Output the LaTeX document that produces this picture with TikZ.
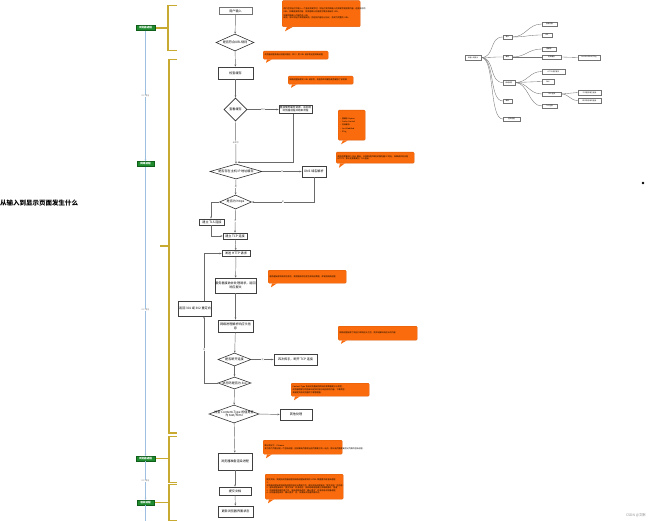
\documentclass[tikz,border=0pt]{standalone}
\usepackage{fontspec}
\setmainfont{Noto Sans CJK SC}
\usetikzlibrary{shapes.geometric,arrows.meta,calc}
\definecolor{noteor}{HTML}{F96B0C}
\definecolor{noteedge}{HTML}{DE5A08}
\definecolor{grn}{HTML}{1E8C2E}
\definecolor{grnd}{HTML}{0F5E1A}
\definecolor{goldb}{HTML}{C9AA30}
\definecolor{bluel}{HTML}{9DBFE0}
\definecolor{linec}{HTML}{6A6A6A}
\tikzset{
  fbox/.style={draw=black!75, line width=0.6pt, fill=white, align=center,
    font=\fontsize{3.1}{3.7}\selectfont, inner sep=0.4pt},
  fdia/.style={diamond, draw=black!80, line width=0.6pt, fill=white, inner sep=0pt,
    label={[font=\fontsize{3.1}{3.7}\selectfont, align=center]center:#1}},
  arr/.style={draw=linec, line width=0.45pt, -{Stealth[length=2.2pt,width=1.8pt]}},
  elab/.style={font=\fontsize{2}{2.4}\selectfont, text=black!60, fill=white, inner sep=0.3pt},
  note/.style={fill=noteor, draw=noteedge, line width=0.3pt, rounded corners=1pt,
    anchor=north west, align=left, font=\fontsize{2}{2.6}\selectfont, inner sep=1.2pt},
  tail/.style={fill=noteor},
  brk/.style={draw=goldb, line width=1.1pt},
  plabel/.style={fill=grn, draw=grnd, line width=0.3pt, text=white, inner sep=0.5pt,
    font=\fontsize{2.6}{3}\selectfont\bfseries, minimum height=5pt},
  bline/.style={draw=bluel, line width=0.7pt},
  barr/.style={draw=bluel, line width=0.7pt, -{Stealth[length=2pt,width=1.8pt]}},
  ipc/.style={font=\fontsize{2}{2.4}\selectfont, text=black!50, fill=white, inner sep=0.3pt},
  mm/.style={draw=black!55, line width=0.35pt, fill=white, inner sep=0.3pt,
    font=\fontsize{1.7}{2}\selectfont, minimum height=4.6pt},
  mml/.style={draw=black!55, line width=0.35pt}
}
\begin{document}
\begin{tikzpicture}[x=1pt,y=-1pt]
\useasboundingbox (0,0) rectangle (650,521);
\fill[white] (0,0) rectangle (650,521);

% ---------- title ----------
\node[anchor=west, font=\fontsize{6.5}{7}\selectfont\bfseries, inner sep=0pt] (title) at (0,203) {从输入到显示页面发生什么};

% ---------- brackets ----------
\draw[brk] (177,5.5) -- (168,5.5) -- (168,50.5) -- (177,50.5);
\draw[brk] (168,28) -- (155,28);
\draw[brk] (177,59.5) -- (169,59.5) -- (169,433) -- (177,433);
\draw[brk] (169,246) -- (160,246);
\draw[brk] (177,436.5) -- (169,436.5) -- (169,482.5) -- (177,482.5);
\draw[brk] (169,458.5) -- (155,458.5);
\draw[brk] (177,484.5) -- (169,484.5) -- (169,520.5) -- (177,520.5);
\draw[brk] (169,502.5) -- (154,502.5);

% ---------- process labels ----------
\node[plabel, minimum width=19pt] (p1) at (145.5,28) {浏览器进程};
\node[plabel, minimum width=17pt] (p2) at (145.5,164) {网络进程};
\node[plabel, minimum width=19pt] (p3) at (145.5,458.5) {浏览器进程};
\node[plabel, minimum width=17pt] (p4) at (145.5,502.5) {渲染进程};
\draw[barr] (p1.south) -- (p2.north);
\draw[barr] (p2.south) -- (p3.north);
\draw[barr] (p3.south) -- (p4.north);
\draw[bline] (p4.south) -- (145.5,521);
\node[ipc] (i1) at (145.5,96) {IPC 通信};
\node[ipc] (i2) at (145.5,310) {IPC 通信};
\node[ipc] (i3) at (145.5,481) {IPC 通信};

% ---------- flow nodes ----------
\node[fbox, draw=black!55, line width=0.5pt, minimum width=33pt, minimum height=6.5pt] (user) at (235.5,11) {用户输入};
\node[fdia={是否符合URL规则}, minimum width=38pt, minimum height=17pt] (d1) at (235,42.5) {};
\node[fbox, minimum width=35pt, minimum height=12pt] (cache) at (235.5,73) {检查缓存};
\node[fdia={查看缓存}, minimum width=23pt, minimum height=23pt] (d2) at (235.5,109.5) {};
\node[fbox, minimum width=33pt, minimum height=8pt, font=\fontsize{2.6}{3}\selectfont] (hit) at (295.5,109.5) {直接使用缓存资源，返回给\\浏览器进程并结束流程};
\node[fdia={是否存在主机 IP 地址缓存}, minimum width=52pt, minimum height=15pt] (d3) at (236,171.5) {};
\node[fbox, minimum width=24pt, minimum height=11pt] (dns) at (314,171.5) {DNS 域名解析};
\node[fdia={是否为 https}, minimum width=32pt, minimum height=14pt] (d4) at (235.5,202) {};
\node[fbox, minimum width=25pt, minimum height=6pt] (tls) at (212,222) {建立 TLS 连接};
\node[fbox, minimum width=24pt, minimum height=6pt] (tcp) at (235,236) {建立 TCP 连接};
\node[fbox, minimum width=28pt, minimum height=6pt] (http) at (236,253.5) {发送 HTTP 请求};
\node[fbox, minimum width=35pt, minimum height=15pt] (server) at (235.5,285.5) {服务器接收并处理请求，返回\\响应报文};
\node[fbox, minimum width=32pt, minimum height=15pt] (redir) at (195,308.5) {返回 301 或 302 重定向};
\node[fbox, minimum width=35pt, minimum height=12pt] (recv) at (235.5,326) {网络进程解析响应头信\\息};
\node[fdia={是否断开连接}, minimum width=33pt, minimum height=13pt] (d5) at (234.5,359.5) {};
\node[fbox, minimum width=43pt, minimum height=11pt] (close) at (295.5,359.5) {四次挥手，断开 TCP 连接};
\node[fdia={状态码是否为 3xx}, minimum width=33pt, minimum height=12pt] (d6) at (234.5,383) {};
\node[fdia={检查 Content-Type 的值是否\\为 text/html}, minimum width=50pt, minimum height=18pt] (d7) at (234,414) {};
\node[fbox, minimum width=32pt, minimum height=11pt] (other) at (296,414.5) {其他处理};
\node[fbox, minimum width=34pt, minimum height=17pt] (prep) at (235,461.5) {浏览器准备渲染进程};
\node[fbox, minimum width=32pt, minimum height=8pt] (submit) at (235,491) {提交文档};
\node[fbox, minimum width=35pt, minimum height=11pt] (final) at (235.5,511.5) {更新浏览器界面状态};

\coordinate (lx) at (204,0);
\coordinate (tx) at (211,0);

% ---------- flow edges ----------
\draw[arr] (user) -- (d1);
\draw[arr] (d1) -- (cache);
\draw[arr] (cache) -- (d2);
\draw[arr] (d2.east) -- node[elab]{命中} (hit.west);
\draw[arr] (d2.south) -- node[elab]{未命中} (d3.north);
\draw[arr] (hit.south -| 293,0) |- ($(d3.north)+(1.5,-1.5)$);
\draw[arr] (d3.east) -- node[elab]{否} (dns.west);
\draw[arr] (d3.south) -- node[elab]{是} (d4.north);
\draw[arr] (dns.south) |- node[elab, pos=0.75]{是} (d4.east);
\draw[arr] (d4.west) -| (tls.north -| tx);
\draw[arr] (d4.south) -- node[elab]{否} (tcp.north);
\draw[arr] (tls.south -| tx) |- (tcp.west);
\draw[arr] (tcp) -- (http);
\draw[arr] (http) -- (server);
\draw[arr] (server) -- (recv);
\draw[arr] (recv) -- (d5);
\draw[arr] (d5.east) -- node[elab]{是} (close.west);
\draw[arr] (d5) -- (d6);
\draw[arr] (d6.west) -| node[elab, pos=0.75]{是} (redir.south -| lx);
\draw[arr] (redir.north -| lx) |- (http.west);
\draw[arr] (d6) -- (d7);
\draw[arr] (d7.east) -- (other.west);
\draw[arr] (d7) -- (prep);
\draw[arr] (prep) -- (submit);
\draw[arr] (submit) -- (final);

% ---------- notes ----------
\node[note, minimum width=78pt, minimum height=26pt, text width=75pt] (n1) at (282,0.5)
 {用户在地址栏中输入一个查询关键字时，地址栏会判断输入的关键字是搜索内容，还是请求的 URL。如果是搜索内容，会使用默认的搜索引擎合成新的 URL。\\[1pt]
 如果判断输入内容符合 URL 规则，那么地址栏会根据规则，把这段内容加上协议，合成为完整的 URL。};
\fill[tail] ($(n1.south west)+(5,0)$) -- ++(6,0) -- ++(-8,4.5) -- cycle;

\node[note, minimum width=65pt, minimum height=8pt, text width=62pt] (n2) at (263,51)
 {浏览器进程会通过进程间通信（IPC）把 URL 请求发送至网络进程};
\fill[tail] ($(n2.south west)+(4,0)$) -- ++(5,0) -- ++(-6,3.5) -- cycle;

\node[note, minimum width=65pt, minimum height=8pt, text width=62pt] (n3) at (288,76)
 {网络进程接收到 URL 请求后，会查找本地缓存是否缓存了该资源};
\fill[tail] ($(n3.south west)+(4,0)$) -- ++(5,0) -- ++(-6,3.5) -- cycle;

\node[note, minimum width=27pt, minimum height=30pt, text width=24pt, font=\fontsize{1.9}{3.3}\selectfont] (n4) at (338,110)
 {\textbullet\ 强缓存 Expires\\ \textbullet\ Cache-Control\\ \textbullet\ 协商缓存\\ \textbullet\ Last-Modified\\ \textbullet\ ETag};
\fill[tail] ($(n4.south west)+(5,0)$) -- ++(5,0) -- ++(-7,4) -- cycle;

\node[note, minimum width=78pt, minimum height=11pt, text width=75pt] (n5) at (336,152)
 {请求前需要进行 DNS 解析，以获取请求域名的服务器 IP 地址。如果请求协议是 HTTPS，那么还需要建立 TLS 连接。};
\fill[tail] ($(n5.south west)+(4,0)$) -- ++(5,0) -- ++(-6,4.5) -- cycle;

\node[note, minimum width=78pt, minimum height=13pt, text width=75pt] (n6) at (268,270)
 {服务器接收到请求信息后，会根据请求信息生成响应数据，并发给网络进程};
\fill[tail] ($(n6.south west)+(4,0)$) -- ++(5,0) -- ++(-6,4) -- cycle;

\node[note, minimum width=79pt, minimum height=14pt, text width=76pt] (n7) at (338,326)
 {网络进程接收了响应行和响应头之后，就开始解析响应头的内容};
\fill[tail] ($(n7.south west)+(4,0)$) -- ++(5,0) -- ++(-6,3.5) -- cycle;

\node[note, minimum width=78pt, minimum height=13pt, text width=75pt] (n8) at (291,383)
 {Content-Type 告诉浏览器返回的响应体数据是什么类型，\\浏览器根据它的值来决定如何显示响应体的内容，下载类型\\会被提交给浏览器的下载管理器。};
\fill[tail] ($(n8.south west)+(4,0)$) -- ++(5,0) -- ++(-6,4) -- cycle;

\node[note, minimum width=79pt, minimum height=14pt, text width=76pt] (n9) at (263,440)
 {默认情况下，Chrome 会为每个页面分配一个渲染进程，但如果新页面和当前页面属于同一站点，那么新页面会复用父页面的渲染进程。};
\fill[tail] ($(n9.south west)+(4,0)$) -- ++(5,0) -- ++(-6,4) -- cycle;

\node[note, minimum width=78pt, minimum height=25pt, text width=75pt] (n10) at (265,474)
 {提交文档，就是指浏览器进程将网络进程接收到的 HTML 数据提交给渲染进程：\\
 1. 浏览器进程接收到网络进程的响应头数据之后，便向渲染进程发起“提交文档”的消息；\\
 2. 渲染进程接收到“提交文档”的消息后，会和网络进程建立传输数据的“管道”；\\
 3. 文档数据传输完成之后，渲染进程会返回“确认提交”的消息给浏览器进程；\\
 4. 浏览器进程收到“确认提交”后，会更新浏览器界面状态。};
\fill[tail] ($(n10.south west)+(4,0)$) -- ++(5,0) -- ++(-6,4) -- cycle;

% ---------- mind map ----------
\node[mm, minimum width=16pt] (root) at (473,57.5) {从输入到显示};
\node[mm, minimum width=9pt] (c1) at (507.5,37) {输入};
\node[mm, minimum width=9pt] (c2) at (507.5,57) {缓存};
\node[mm, minimum width=12pt] (c3) at (509,82.5) {网络请求};
\node[mm, minimum width=9pt] (c4) at (507.5,101) {解析};
\node[mm, minimum width=17pt] (c5) at (511.5,119) {渲染进程};
\node[mm, minimum width=15pt] (g1) at (549.5,24) {搜索内容};
\node[mm, minimum width=10pt] (g2) at (547,35) {URL};
\node[mm, minimum width=14pt] (g3) at (549,49) {强缓存};
\node[mm, minimum width=19pt] (g4) at (551.5,57) {协商缓存};
\node[mm, minimum width=22pt] (g5) at (589,57.5) {Last-Modified/ETag};
\node[mm, minimum width=23pt] (g6) at (553.5,71.5) {HTTP 请求报文};
\node[mm, minimum width=12pt] (g7) at (548,81.5) {DNS};
\node[mm, minimum width=19pt] (g8) at (551.5,94) {TCP 连接};
\node[mm, minimum width=15pt] (g9) at (549.5,106) {TLS 连接};
\node[mm, minimum width=23pt] (g10) at (589.5,92.5) {三次握手建立连接};
\node[mm, minimum width=23pt] (g11) at (589.5,100.5) {四次挥手断开连接};
\foreach \c in {c1,c2,c3,c4,c5}
  \draw[mml] (root.east) .. controls +(14,0) and +(-14,0) .. (\c.west);
\draw[mml] (c1.east) .. controls +(14,0) and +(-14,0) .. (g1.west);
\draw[mml] (c1.east) .. controls +(14,0) and +(-14,0) .. (g2.west);
\draw[mml] (c2.east) .. controls +(14,0) and +(-14,0) .. (g3.west);
\draw[mml] (c2.east) -- (g4.west);
\draw[mml] (g4.east) -- (g5.west);
\foreach \g in {g6,g7,g8,g9}
  \draw[mml] (c3.east) .. controls +(13,0) and +(-13,0) .. (\g.west);
\draw[mml] (g8.east) .. controls +(8,0) and +(-8,0) .. (g10.west);
\draw[mml] (g8.east) .. controls +(8,0) and +(-8,0) .. (g11.west);

% ---------- misc ----------
\fill[black] (643,183) circle (1.4);
\node[anchor=east, font=\fontsize{3.4}{4}\selectfont, text=black!45, inner sep=0pt] (wm) at (646,515) {CSDN @文默};
\end{tikzpicture}
\end{document}
